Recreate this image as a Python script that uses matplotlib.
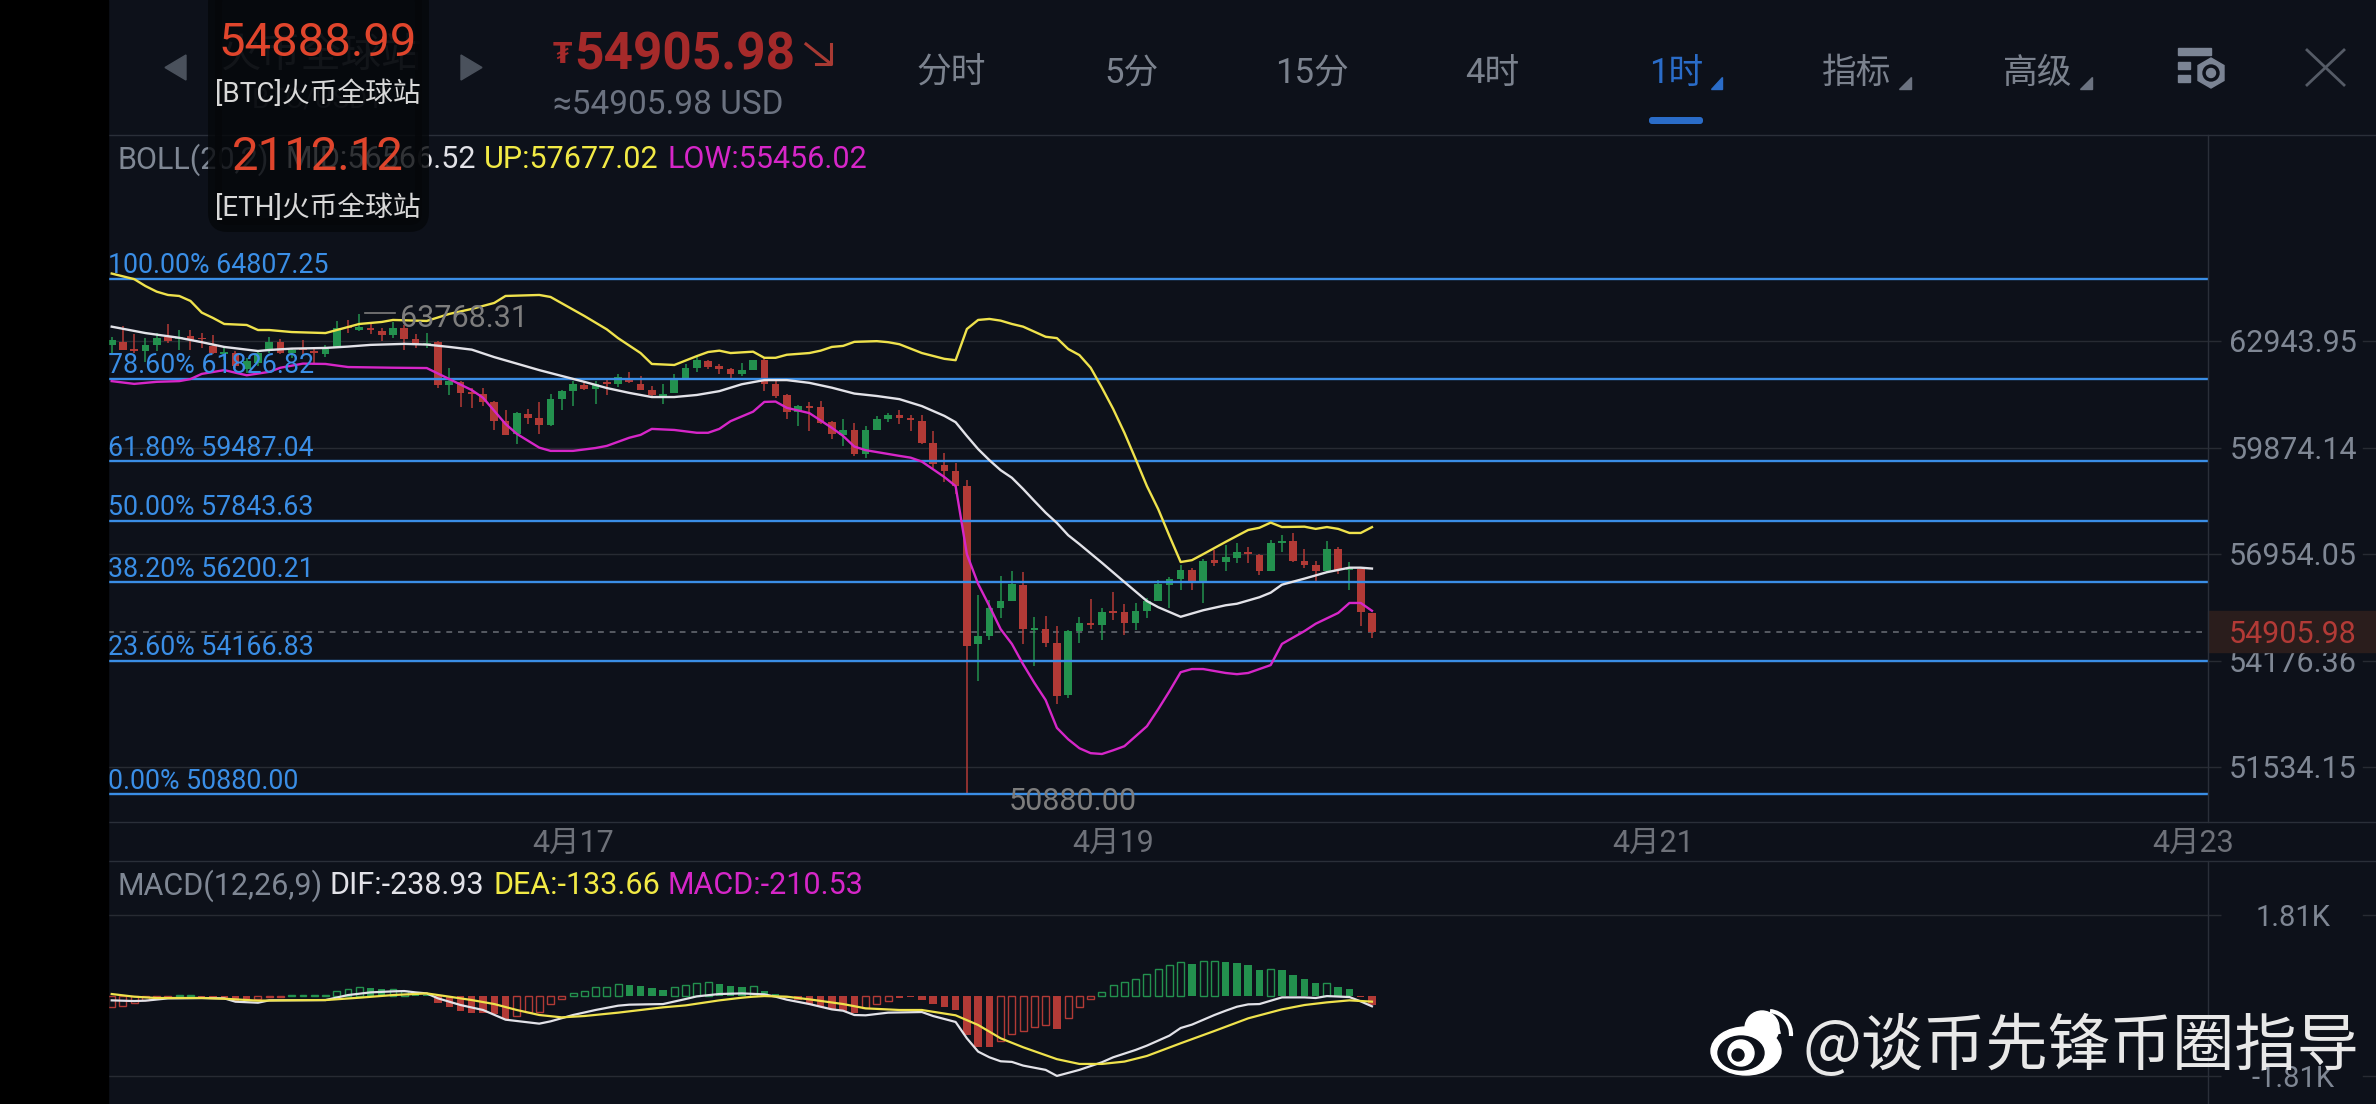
#!/usr/bin/env python3

import matplotlib
matplotlib.use('Agg')
import matplotlib.pyplot as plt
import numpy as np
from matplotlib.patches import Circle, Ellipse, FancyBboxPatch, Polygon, Rectangle, Arc, RegularPolygon
from matplotlib.ticker import NullFormatter, NullLocator
from matplotlib.transforms import blended_transform_factory, offset_copy

plt.rcParams['font.family'] = ['Roboto', 'Noto Sans CJK SC', 'DejaVu Sans']

# 一小时K线
opens = [62820, 62920, 62700, 62650, 62820, 63060, 62990, 63080, 63020, 62800, 62570, 62590, 62110, 62300, 62670, 62920,
         62600, 62700, 62650, 62550, 62750, 63360, 63280, 63340, 63240, 63120, 63340, 63000, 62830, 62920, 61670, 61750,
         61450, 61390, 61170, 60620, 60260, 60830, 60700, 60510, 61260, 61480, 61670, 61530, 61740, 61690, 61870, 61700,
         61510, 61290, 61420, 61870, 62140, 62360, 62200, 62110, 61970, 62100, 62390, 61690, 61360, 60890, 61050, 61020,
         60590, 60240, 60370, 59680, 60370, 60670, 60790, 60720, 60620, 59990, 59380, 59210, 58800, 54590, 54800, 55530,
         55710, 56130, 54950, 54980, 54620, 53300, 54930, 55140, 55100, 55450, 55420, 55130, 55450, 55710, 56130, 56280,
         56530, 56190, 56790, 56740, 56850, 57010, 56920, 56500, 57260, 57300, 56770, 56660, 56500, 57100, 56530, 56560,
         55390]
highs = [63060, 63390, 63140, 63040, 63190, 63440, 63260, 63260, 63180, 63120, 62800, 62650, 62450, 62690, 63060, 62990,
         62750, 62960, 62700, 62830, 63540, 63560, 63750, 63440, 63320, 63520, 63420, 63140, 63180, 62940, 62160, 61770,
         61580, 61580, 61210, 60930, 60870, 60960, 61170, 61410, 61500, 61770, 61770, 61770, 61820, 61970, 62030, 61930,
         61620, 61680, 61970, 62260, 62470, 62400, 62260, 62160, 62290, 62380, 62440, 61870, 61410, 61080, 61160, 61200,
         60620, 60680, 60570, 60490, 60760, 60860, 60930, 60790, 60800, 60340, 59720, 59440, 58960, 55870, 55730, 56370,
         56500, 56470, 55290, 55330, 55060, 54950, 55290, 55770, 55530, 55940, 55620, 55660, 55800, 56260, 56340, 56660,
         56570, 56810, 57060, 57190, 57250, 57140, 56960, 57320, 57460, 57520, 57080, 56770, 57300, 57140, 56740, 56570,
         55400]
lows = [62570, 62680, 62600, 62330, 62650, 62890, 62680, 62680, 62750, 62550, 62400, 62160, 62010, 62210, 62600, 62550,
        62450, 62530, 62300, 62470, 62730, 63190, 63240, 63160, 62940, 63040, 62680, 62730, 62730, 61580, 61370, 61030,
        61000, 61050, 60370, 60230, 59980, 60530, 60260, 60490, 60940, 61050, 61510, 61100, 61370, 61600, 61720, 61500,
        61340, 61120, 61420, 61850, 62040, 62110, 61980, 61870, 61910, 62080, 61480, 61270, 60680, 60480, 60350, 60550,
        60110, 59920, 59640, 59590, 60370, 60600, 60530, 60340, 59980, 59310, 58920, 58570, 50880, 53670, 54710, 55280,
        55710, 54590, 54030, 54520, 53090, 53240, 54620, 54980, 54700, 55210, 54840, 54950, 55280, 55710, 55520, 56000,
        56000, 55660, 56630, 56500, 56720, 56710, 56390, 56500, 57000, 56740, 56590, 56190, 56480, 56430, 56000, 55060,
        54760]
closes = [62970, 62680, 62660, 62820, 63040, 62940, 63060, 62960, 62990, 62600, 62620, 62210, 62360, 62600, 62920, 62600,
          62690, 62670, 62590, 62720, 63340, 63320, 63360, 63260, 63120, 63320, 63000, 62860, 62880, 61660, 61770, 61430,
          61400, 61170, 60620, 60230, 60840, 60720, 60510, 61240, 61480, 61690, 61540, 61690, 61680, 61890, 61750, 61520,
          61360, 61400, 61840, 62140, 62380, 62190, 62120, 61980, 62090, 62380, 61690, 61340, 60890, 61040, 61000, 60570,
          60260, 60360, 59680, 60370, 60690, 60790, 60720, 60660, 60000, 59400, 59220, 58810, 54550, 54800, 55520, 55710,
          56150, 54990, 55000, 54620, 53280, 54930, 55130, 55100, 55420, 55400, 55130, 55450, 55710, 56150, 56280, 56520,
          56180, 56770, 56720, 56870, 57000, 56960, 56500, 57250, 57300, 56770, 56660, 56500, 57080, 56520, 56570, 55430,
          54905.98]

# 布林线
up_idx = [0, 2, 3, 4, 5, 6, 7, 8, 9, 10, 12, 13, 14, 16, 19, 20, 22, 24, 25, 28, 30, 32, 34, 35, 38, 39, 42, 44, 45, 47,
          48, 50, 52, 53, 54, 55, 57, 58, 59, 60, 62, 63, 64, 65, 66, 68, 69, 70, 72, 74, 75, 76, 77, 78, 79, 80, 81, 82,
          83, 84, 85, 86, 87, 88, 89, 90, 91, 92, 93, 94, 95, 96, 97, 99, 100, 101, 102, 103, 104, 106, 107, 108, 109,
          110, 111, 112]
up_val = [64970, 64800, 64590, 64420, 64320, 64290, 64140, 63790, 63630, 63450, 63420, 63270, 63270, 63210, 63180, 63270,
          63450, 63510, 63570, 63540, 63750, 63900, 64080, 64290, 64320, 64260, 63690, 63290, 63030, 62590, 62270, 62240,
          62500, 62620, 62660, 62590, 62630, 62450, 62450, 62540, 62590, 62660, 62770, 62800, 62920, 62940, 62910, 62850,
          62590, 62420, 62380, 63300, 63570, 63600, 63550, 63450, 63370, 63220, 63070, 63030, 62710, 62530, 62160, 61580,
          60970, 60290, 59550, 58800, 58170, 57440, 56740, 56790, 56950, 57280, 57440, 57600, 57660, 57800, 57680, 57690,
          57630, 57680, 57630, 57520, 57520, 57677.02]
mid_idx = [0, 3, 6, 8, 10, 13, 14, 16, 19, 21, 23, 26, 28, 30, 32, 34, 36, 38, 40, 42, 43, 44, 46, 48, 50, 52, 54, 56, 58,
           60, 62, 64, 66, 68, 70, 72, 74, 75, 76, 77, 78, 79, 80, 81, 82, 83, 84, 85, 86, 88, 90, 92, 93, 95, 97, 99, 100,
           102, 103, 104, 106, 108, 109, 110, 111, 112]
mid_val = [63370, 63180, 63040, 62910, 62770, 62650, 62680, 62720, 62740, 62780, 62830, 62860, 62840, 62770, 62690, 62470,
           62280, 62090, 61920, 61750, 61660, 61570, 61430, 61310, 61310, 61370, 61480, 61680, 61800, 61800, 61720, 61580,
           61410, 61340, 61250, 61050, 60770, 60590, 60200, 59830, 59520, 59240, 59030, 58720, 58390, 58070, 57790, 57460,
           57220, 56720, 56210, 55710, 55550, 55300, 55470, 55600, 55640, 55810, 55930, 56140, 56300, 56470, 56530, 56590,
           56590, 56566.52]
low_idx = [0, 2, 4, 6, 7, 8, 10, 12, 14, 15, 17, 19, 21, 25, 28, 30, 32, 33, 35, 36, 38, 39, 41, 43, 44, 46, 47, 48, 50, 52,
           53, 54, 55, 57, 58, 59, 60, 62, 64, 65, 66, 67, 70, 71, 72, 74, 75, 76, 77, 78, 79, 80, 81, 82, 83, 84, 85, 86,
           87, 88, 89, 90, 92, 93, 94, 95, 96, 97, 99, 100, 101, 103, 104, 106, 107, 109, 110, 111, 112]
low_val = [61770, 61690, 61750, 61770, 61830, 61980, 62090, 61940, 62040, 62160, 62280, 62270, 62180, 62160, 62150, 61830,
           61510, 61290, 60540, 60260, 59870, 59780, 59780, 59860, 59920, 60150, 60230, 60400, 60370, 60290, 60290, 60400,
           60620, 60890, 61170, 61180, 61000, 60850, 60430, 60200, 59900, 59800, 59640, 59590, 59480, 59050, 58800, 56950,
           56160, 55580, 54980, 54600, 54080, 53610, 53180, 52490, 52210, 51990, 51870, 51850, 51940, 52040, 52530, 52950,
           53400, 53880, 53960, 53960, 53860, 53830, 53860, 54060, 54600, 54930, 55120, 55400, 55660, 55660, 55456.02]

# 斐波那契回撤
fib_prices = [64807.25, 61826.82, 59487.04, 57843.63, 56200.21, 54166.83, 50880.00]
fib_labels = ['100.00% 64807.25', '78.60% 61826.82', '61.80% 59487.04', '50.00% 57843.63',
              '38.20% 56200.21', '23.60% 54166.83', '0.00% 50880.00']

price_ticks = [62943.95, 59874.14, 56954.05, 54176.36, 51534.15]
price_tick_labels = ['62943.95', '59874.14', '56954.05', '54176.36', '51534.15']
date_ticks = [41, 89, 137, 185]
date_labels = ['4月17', '4月19', '4月21', '4月23']
last_price = 54905.98
high_mark = 63768.31
low_mark = 50880.00

# MACD
macd_hist = [-248, -225, -172, -90, -60, -22, 8, 8, -30, -30, -50, -110, -130, -80, -20, -20, 8, 8, 8, 8,
             112, 158, 188, 165, 142, 158, 100, 50, 15, -158, -248, -345, -390, -398, -412, -532, -450, -360, -360, -195,
             -68, 52, 112, 188, 202, 255, 232, 218, 165, 128, 188, 232, 278, 300, 262, 218, 195, 218, 105, 38,
             -60, -100, -195, -248, -292, -338, -398, -285, -195, -112, -52, -22, -90, -180, -248, -322, -878, -1148, -1148,
             -1028, -855, -802, -712, -652, -750, -495, -262, -82, 90, 232, 300, 382, 480, 592, 682, 750, 712, 772, 772,
             750, 735, 690, 578, 592, 578, 472, 375, 285, 285, 195, 150, -22, -210.53]
macd_solid = [8, 9, 10, 11, 12, 23, 24, 27, 28, 29, 30, 31, 32, 33, 34, 35, 46, 47, 48, 49, 54, 55, 56, 58, 59, 60, 61, 62,
              63, 64, 65, 66, 70, 71, 72, 73, 74, 75, 76, 77, 78, 84, 96, 99, 100, 101, 102, 104, 105, 106, 107, 109, 110,
              111, 112]
dif_idx = [0, 2, 3, 5, 8, 10, 11, 13, 14, 19, 21, 23, 25, 26, 27, 28, 29, 31, 33, 35, 38, 39, 41, 43, 45, 46, 49, 51, 52,
           54, 56, 58, 59, 60, 62, 64, 65, 66, 67, 69, 72, 73, 75, 76, 77, 78, 79, 80, 81, 83, 84, 86, 88, 89, 91, 92, 94,
           95, 96, 98, 99, 100, 101, 102, 104, 106, 107, 108, 110, 111, 112]
dif_val = [-105, -120, -112, -60, -52, -60, -135, -158, -105, -98, 15, 75, 98, 105, 75, 52, -60, -210, -322, -540, -630,
           -578, -435, -322, -225, -202, -188, -75, -15, 38, 52, 30, -22, -90, -188, -308, -338, -435, -442, -382, -368,
           -458, -592, -960, -1260, -1388, -1478, -1492, -1575, -1672, -1808, -1672, -1500, -1388, -1222, -1125, -900,
           -728, -652, -435, -338, -248, -195, -188, -38, -38, -52, -8, -30, -128, -238.93]
dea_idx = [0, 2, 4, 8, 10, 13, 15, 19, 22, 25, 28, 30, 32, 34, 36, 38, 40, 42, 45, 49, 51, 54, 56, 57, 58, 60, 62, 65, 67,
           70, 72, 75, 77, 79, 81, 84, 86, 88, 90, 92, 95, 98, 101, 104, 106, 108, 110, 112]
dea_val = [38, -22, -52, -52, -68, -112, -105, -98, -45, 15, 52, -22, -98, -188, -322, -435, -488, -458, -382, -262, -218,
           -105, -45, -22, -8, -22, -82, -188, -285, -322, -322, -442, -660, -960, -1162, -1430, -1538, -1538, -1485, -1358,
           -1072, -795, -510, -308, -210, -150, -105, -133.66]
macd_ticks = [1810, -1810]
macd_tick_labels = ['1.81K', '-1.81K']

BG = '#0d111a'
FRAME = '#2a2f39'
GRID = '#272b33'
GREEN = '#23914e'
RED = '#b23a36'
YELLOW = '#efe24c'
WHITE = '#e2e2e8'
MAGENTA = '#d626c8'
BLUE = '#3a8ee6'
GRAY = '#7f8794'

W, H = 2376, 1104
X0, X1 = 108, 2208
MAIN_T, MAIN_B = 135, 821
SUB_T, SUB_B = 862, 1104

fig = plt.figure(figsize=(W / 100, H / 100), dpi=100, facecolor=BG)


def pane(top, bottom):
    a = fig.add_axes([X0 / W, 1 - bottom / H, (X1 - X0) / W, (bottom - top) / H], facecolor=BG)
    for s in a.spines.values():
        s.set_visible(False)
    a.set_xlim(-0.329, 186.3)
    return a


ax = pane(MAIN_T, MAIN_B)
ax.set_yscale('log')
ax.yaxis.set_minor_locator(NullLocator())
ax.yaxis.set_major_formatter(NullFormatter())
ax.yaxis.set_minor_formatter(NullFormatter())
ax.set_yticks(price_ticks)
ax.yaxis.tick_right()
ax.tick_params(axis='y', length=9, width=1, color=GRID)
ax.grid(True, axis='y', color=GRID, lw=1, zorder=0)
ax.set_axisbelow(True)
ax.set_xticks(date_ticks, date_labels)
ax.tick_params(axis='x', length=0, pad=6, labelsize=22, labelcolor='#6e7179')

# K线
xs = np.arange(len(opens))
o, h, l, c = map(np.array, (opens, highs, lows, closes))
colors = [GREEN if c[i] >= o[i] else RED for i in xs]
ax.vlines(xs, l, h, colors=colors, lw=1.1, zorder=2)
ax.bar(xs, np.abs(c - o), bottom=np.minimum(o, c), width=0.68, color=colors, zorder=3)
ax.set_ylim(50244, 69337)

for p in fib_prices:
    ax.axhline(p, color=BLUE, lw=1.7, zorder=4)
ax.plot(up_idx, up_val, color=YELLOW, lw=1.7, zorder=5)
ax.plot(mid_idx, mid_val, color=WHITE, lw=1.7, zorder=5)
ax.plot(low_idx, low_val, color=MAGENTA, lw=1.7, zorder=5)
ax.plot([-0.329, 185.8], [last_price, last_price], color='#565a62', lw=1.4, ls=(0, (3, 3)), zorder=1)

up_shift = offset_copy(ax.transData, fig=fig, x=-2.7, y=9.5, units='points')
for p, s in zip(fib_prices, fib_labels):
    ax.text(0, p, s, color=BLUE, fontsize=19.3, va='center', transform=up_shift, zorder=6)

# 高低点标记
ax.plot([22.5, 25.2], [high_mark, high_mark], color='#7d7d7d', lw=1.2, zorder=6)
ax.annotate('63768.31', (25.6, high_mark), xytext=(0, -4), textcoords='offset points', color='#7d7d7d', fontsize=22, va='center', zorder=6)
ax.annotate('50880.00', (79.7, low_mark), xytext=(0, -5), textcoords='offset points', color='#7d7d7d', fontsize=22, va='center', zorder=6)

side = blended_transform_factory(ax.transAxes, ax.transData)
tick_shift = offset_copy(side, fig=fig, y=-2, units='points')
for p, s in zip(price_ticks, price_tick_labels):
    ax.text(1.0405, p, s, color=GRAY, fontsize=22, ha='center', va='center', transform=tick_shift, zorder=3)
    ax.plot([1.0738, 1.08], [p, p], color=GRID, lw=1, transform=side, clip_on=False)
ax.add_patch(Rectangle((1.0, last_price * 0.9905), 0.08, last_price * 0.0192, transform=side, color='#2a1d1c', clip_on=False, zorder=4))
ax.text(1.0405, last_price, '54905.98', color=RED, fontsize=22, ha='center', va='center', transform=tick_shift, zorder=5)

# MACD副图
ax2 = pane(SUB_T, SUB_B)
ax2.set_ylim(-2441, 3014)
ax2.set_xticks([])
ax2.set_yticks(macd_ticks)
ax2.yaxis.tick_right()
ax2.set_yticklabels([])
ax2.tick_params(axis='y', length=9, width=1, color=GRID)
ax2.grid(True, axis='y', color=GRID, lw=1, zorder=0)
ax2.set_axisbelow(True)

hist = np.array(macd_hist)
hist_colors = np.array([GREEN if v > 0 else RED for v in hist])
is_solid = np.isin(xs, macd_solid)
ax2.bar(xs[is_solid], hist[is_solid], width=0.66, color=hist_colors[is_solid], zorder=2)
ax2.bar(xs[~is_solid], hist[~is_solid], width=0.62, facecolor='none', edgecolor=hist_colors[~is_solid], lw=1, zorder=2)
ax2.plot(dif_idx, dif_val, color=WHITE, lw=1.6, zorder=3)
ax2.plot(dea_idx, dea_val, color=YELLOW, lw=1.6, zorder=4)
side2 = blended_transform_factory(ax2.transAxes, ax2.transData)
tick_shift2 = offset_copy(side2, fig=fig, y=-2, units='points')
for v, s in zip(macd_ticks, macd_tick_labels):
    ax2.text(1.0405, v, s, color=GRAY, fontsize=21, ha='center', va='center', transform=tick_shift2)
    ax2.plot([1.0738, 1.08], [v, v], color=GRID, lw=1, transform=side2, clip_on=False)

# 顶部栏、边框、水印都放在一层像素坐标的透明画布上
ov = fig.add_axes([0, 0, 1, 1], facecolor='none')
ov.set_xlim(0, W)
ov.set_ylim(H, 0)
ov.axis('off')


def put(x, y, s, color, size, ha='left', z=6, **kw):
    return ov.text(x, y + 3, s, color=color, fontsize=size, ha=ha, va='center', zorder=z, **kw)


ov.plot([X0, W], [135, 135], color=FRAME, lw=1)
ov.plot([X0, W], [821.7, 821.7], color=FRAME, lw=1)
ov.plot([X0, W], [861, 861], color=FRAME, lw=1)
ov.plot([2208, 2208], [135, 821.7], color=FRAME, lw=1)
ov.plot([2208, 2208], [861, H], color=FRAME, lw=1)

# 标的切换
ov.add_patch(Polygon([(186, 55), (186, 80), (165, 67.5)], color='#4a515c'))
ov.add_patch(Polygon([(461, 55), (461, 80), (482, 67.5)], color='#4a515c'))
put(322, 52, '火币全球站', '#4a4f59', 29, ha='center', z=3)
put(318, 97, 'BTC/USDT', '#3a3f49', 20, ha='center', z=3)
put(118, 157, 'BOLL(20,2)', GRAY, 22, z=3)
put(286, 157, 'MID:56566.52', WHITE, 22, z=3)
put(484, 157, 'UP:57677.02', '#f2ea45', 22)
put(667, 157, 'LOW:55456.02', MAGENTA, 22)

# 悬浮报价框
ov.add_patch(FancyBboxPatch((215, -10), 207, 235, boxstyle='round,pad=0,rounding_size=12', linewidth=10, edgecolor='#05070a', facecolor='#05070a', alpha=0.8, zorder=4))
put(318, 40, '54888.99', '#e0452c', 34, ha='center')
put(318, 91, '[BTC]火币全球站', '#d8d8d8', 20, ha='center')
put(318, 154, '2112.12', '#e0452c', 34, ha='center')
put(318, 205, '[ETH]火币全球站', '#d8d8d8', 20, ha='center')

# 最新价
put(553, 52, '₮', '#a52a2a', 20, family='DejaVu Sans', fontweight='bold')
put(574, 52, '54905.98', '#a52a2a', 37, fontweight='bold')
put(553, 102, '≈54905.98 USD', '#6b7280', 24)
ov.plot([806, 831], [44, 64], color='#a83a33', lw=2.2)
ov.plot([816, 831, 831], [64, 64, 44], color='#a83a33', lw=2.2)

# 周期
tabs = ['分时', '5分', '15分', '4时', '1时', '指标', '高级']
tab_x = [951, 1132, 1312, 1492, 1676, 1857, 2038]
for x, s in zip(tab_x, tabs):
    put(x, 70, s, '#2a6cc8' if s == '1时' else '#7b828e', 25, ha='center')
ov.add_patch(FancyBboxPatch((1649, 117), 54, 7, boxstyle='round,pad=0,rounding_size=3', linewidth=0, facecolor='#2a6cc8'))
ov.add_patch(Polygon([(1711, 89), (1722, 89), (1722, 77)], color='#2a6cc8'))
ov.add_patch(Polygon([(1899, 89), (1911, 89), (1911, 77)], color='#6b7280'))
ov.add_patch(Polygon([(2080, 89), (2092, 89), (2092, 77)], color='#6b7280'))

# 设置图标和关闭按钮
for y0, y1, x1 in [(48, 55, 2211), (62, 69, 2190), (75, 82, 2190)]:
    ov.add_patch(Rectangle((2178, y0), x1 - 2178, y1 - y0, color='#7b8494'))
ov.add_patch(RegularPolygon((2211, 73), 6, radius=15, color='#7b8494'))
ov.add_patch(Circle((2211, 73), 8, color=BG))
ov.add_patch(Circle((2211, 73), 4.5, color='#7b8494'))
ov.plot([2307, 2344], [50, 85], color='#555b66', lw=2)
ov.plot([2344, 2307], [50, 85], color='#555b66', lw=2)

put(117, 883, 'MACD(12,26,9)', GRAY, 22)
put(330, 883, 'DIF:-238.93', WHITE, 22)
put(494, 883, 'DEA:-133.66', '#f2ea45', 22)
put(668, 883, 'MACD:-210.53', MAGENTA, 22)

# 微博水印
put(1803, 1044, '@谈币先锋币圈指导', '#e8e8e8', 44.8, z=8, family=['Noto Sans CJK SC', 'DejaVu Sans'])
ov.add_patch(Ellipse((1746, 1051), 70, 48, color='white', zorder=7))
ov.add_patch(Circle((1762, 1028), 17, color='white', zorder=7))
ov.add_patch(Ellipse((1741, 1053), 46, 34, color=BG, zorder=7))
ov.add_patch(Circle((1741, 1053), 13, color='white', zorder=7))
ov.add_patch(Circle((1738, 1055), 6, color=BG, zorder=7))
ov.add_patch(Arc((1768, 1034), 22, 22, theta1=270, theta2=360, color='white', lw=2.5, zorder=7))
ov.add_patch(Arc((1768, 1034), 46, 46, theta1=275, theta2=365, color='white', lw=3, zorder=7))

# 左侧黑边
ov.add_patch(Rectangle((0, 0), X0, H, color='black', zorder=20))

fig.savefig('out.png', dpi=100, facecolor=BG)
